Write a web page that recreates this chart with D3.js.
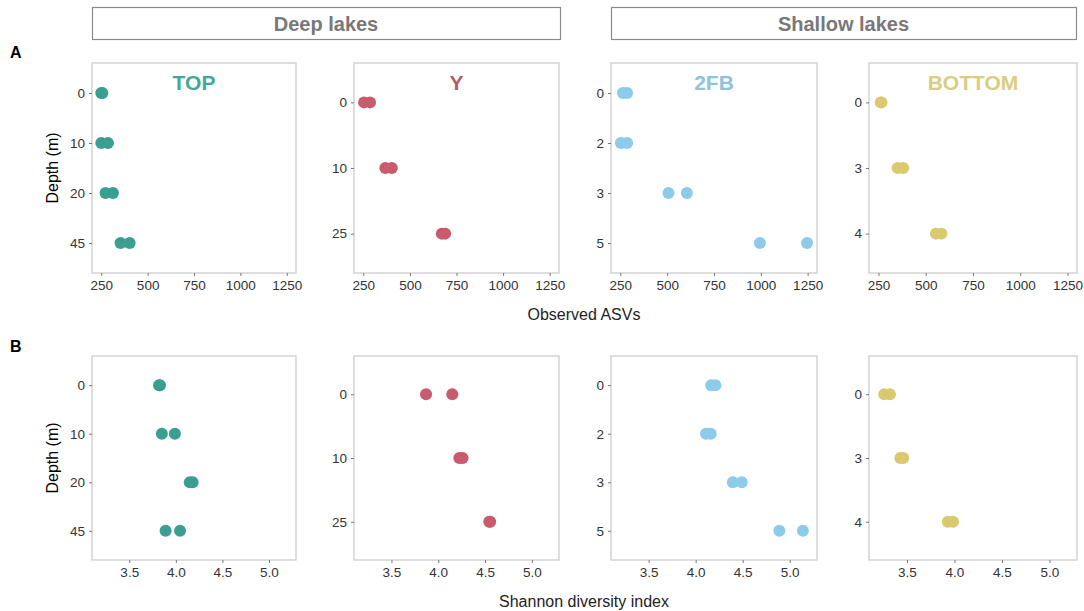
<!DOCTYPE html>
<html>
<head>
<meta charset="utf-8">
<script src="https://cdn.jsdelivr.net/npm/d3@7"></script>
<style>
  html, body { margin: 0; padding: 0; background: #fff; }
  svg { display: block; font-family: Arial, "Liberation Sans", Helvetica, sans-serif; }
</style>
</head>
<body>
<svg id="chart" width="1084" height="611"></svg>
<script>
// ---- Data ----
const lakes = ["TOP", "Y", "2FB", "BOTTOM"];
const lakeGroups = ["Deep lakes", "Shallow lakes"];
const lakeColors = ["#3a9f90", "#c85b6c", "#8ccbea", "#dbc96f"];
const titleColors = ["#44a897", "#b25d6e", "#8fc3dc", "#d8cd82"];

const depthLevels = [
  ["0", "10", "20", "45"],
  ["0", "10", "25"],
  ["0", "2", "3", "5"],
  ["0", "3", "4"]
];

// Observed ASVs (two replicates per depth)
const asvTOP    = [[250, 256], [250, 286], [273, 313], [354, 403]];
const asvY      = [[254, 286], [368, 403], [671, 689]];
const asv2FB    = [[264, 286], [253, 286], [507, 605], [995, 1247]];
const asvBOTTOM = [[262, 266], [351, 381], [554, 583]];

// Shannon diversity index
const shTOP    = [[3.82, 3.83], [3.85, 3.99], [4.15, 4.18], [3.89, 4.045]];
const shY      = [[3.87, 4.15], [4.225, 4.26], [4.545, 4.555]];
const sh2FB    = [[4.165, 4.21], [4.11, 4.16], [4.395, 4.49], [4.89, 5.14]];
const shBOTTOM = [[3.26, 3.32], [3.43, 3.46], [3.93, 3.985]];

const asvTicks = [250, 500, 750, 1000, 1250];
const shTicks = [3.5, 4.0, 4.5, 5.0];
const asvDomain = [200, 1300];
const shDomain = [3.1, 5.29];

const asvData = [asvTOP, asvY, asv2FB, asvBOTTOM];
const shData = [shTOP, shY, sh2FB, shBOTTOM];

// ---- Layout ----
const svg = d3.select("#chart");
const colLeft = [92, 354, 611, 869];
const colRight = [296, 559, 817, 1077];
const rows = [
  { top: 63, bottom: 273, data: asvData, domain: asvDomain, ticks: asvTicks, fmt: d3.format("d"), label: "Observed ASVs", labelY: 314, letter: "A", letterY: 58 },
  { top: 356, bottom: 560, data: shData, domain: shDomain, ticks: shTicks, fmt: d3.format(".1f"), label: "Shannon diversity index", labelY: 601, letter: "B", letterY: 352 }
];

// Group header boxes
const groupBoxes = [[92, 560], [611, 1076]];
groupBoxes.forEach((b, i) => {
  svg.append("rect").attr("x", b[0] + 0.5).attr("y", 7.5).attr("width", b[1] - b[0]).attr("height", 32)
    .attr("fill", "#fff").attr("stroke", "#8a8a8a").attr("stroke-width", 1.2);
  svg.append("text").attr("x", (b[0] + b[1]) / 2).attr("y", 24).attr("dy", "0.36em")
    .attr("text-anchor", "middle").attr("font-size", 20).attr("font-weight", "bold")
    .attr("fill", "#787878").text(lakeGroups[i]);
});

rows.forEach((row, ri) => {
  svg.append("text").attr("x", 10).attr("y", row.letterY).attr("font-size", 16)
    .attr("font-weight", "bold").attr("fill", "#000").text(row.letter);

  lakes.forEach((lake, ci) => {
    const x = d3.scaleLinear().domain(row.domain).range([colLeft[ci], colRight[ci]]);
    const y = d3.scalePoint().domain(depthLevels[ci]).range([row.top, row.bottom]).padding(0.6);
    const g = svg.append("g");

    // frame
    g.append("rect").attr("x", colLeft[ci]).attr("y", row.top)
      .attr("width", colRight[ci] - colLeft[ci]).attr("height", row.bottom - row.top)
      .attr("fill", "#fff").attr("stroke", "#cccccc").attr("stroke-width", 1.3);

    // axes
    const xa = g.append("g").attr("transform", `translate(0,${row.bottom})`)
      .call(d3.axisBottom(x).tickValues(row.ticks).tickFormat(row.fmt).tickSize(3).tickPadding(4));
    const ya = g.append("g").attr("transform", `translate(${colLeft[ci]},0)`)
      .call(d3.axisLeft(y).tickSize(3).tickPadding(4));
    [xa, ya].forEach(a => {
      a.select(".domain").remove();
      a.selectAll(".tick line").attr("stroke", "#777").attr("stroke-width", 1);
      a.selectAll(".tick text").attr("fill", "#333").attr("font-size", 13.5)
        .attr("font-family", "Arial, 'Liberation Sans', sans-serif");
    });

    // points
    const pts = [];
    row.data[ci].forEach((vals, di) => vals.forEach(v => pts.push({ d: depthLevels[ci][di], v })));
    g.selectAll("circle.pt").data(pts).enter().append("circle")
      .attr("class", "pt")
      .attr("cx", d => x(d.v)).attr("cy", d => y(d.d)).attr("r", 6)
      .attr("fill", lakeColors[ci]);

    // panel titles (row A only)
    if (ri === 0) {
      g.append("text").attr("x", (colLeft[ci] + colRight[ci]) / 2).attr("y", 82).attr("dy", "0.36em")
        .attr("text-anchor", "middle").attr("font-size", 21).attr("font-weight", "bold")
        .attr("fill", titleColors[ci]).text(lake);
    }
  });

  // y label
  const cy = (row.top + row.bottom) / 2;
  svg.append("text").attr("transform", `translate(52,${cy}) rotate(-90)`).attr("dy", "0.36em")
    .attr("text-anchor", "middle").attr("font-size", 16).attr("fill", "#000").text("Depth (m)");
  // x label
  svg.append("text").attr("x", 584).attr("y", row.labelY).attr("dy", "0.36em")
    .attr("text-anchor", "middle").attr("font-size", 16).attr("fill", "#222").text(row.label);
});
</script>
</body>
</html>
